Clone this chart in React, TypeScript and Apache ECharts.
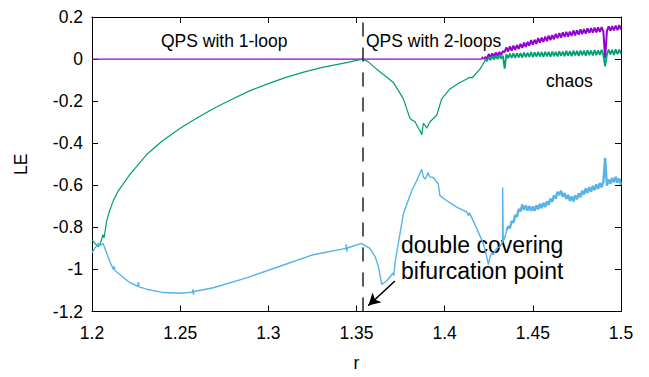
import React, { useEffect, useRef } from "react";
import * as echarts from "echarts";

// ---- data (r, LE) ----
const purpleFlat: number[][] = [
  [1.2, 0], [1.421, 0], [1.4213, 0.012], [1.4216, 0], [1.422, 0],
];
const purpleNoisy: number[][] = [
  [1.422, 0], [1.423, 0.009], [1.424, 0.003], [1.425, 0.024], [1.426, 0.01], [1.427, 0.027], [1.428, 0.013],
  [1.429, 0.031], [1.43, 0.016], [1.431, 0.034], [1.432, 0.019], [1.433, 0.038], [1.434, 0.033],
  [1.435, 0.056], [1.436, 0.036], [1.437, 0.06], [1.438, 0.04], [1.439, 0.064], [1.44, 0.044],
  [1.441, 0.067], [1.442, 0.048], [1.443, 0.072], [1.444, 0.053], [1.445, 0.078], [1.446, 0.058],
  [1.447, 0.082], [1.448, 0.063], [1.449, 0.09], [1.45, 0.068], [1.451, 0.092], [1.452, 0.072],
  [1.453, 0.1], [1.454, 0.078], [1.455, 0.102], [1.456, 0.081], [1.457, 0.107], [1.458, 0.085],
  [1.459, 0.112], [1.46, 0.09], [1.461, 0.114], [1.462, 0.094], [1.463, 0.12], [1.464, 0.099],
  [1.465, 0.123], [1.466, 0.102], [1.467, 0.127], [1.468, 0.105], [1.469, 0.13], [1.47, 0.107],
  [1.471, 0.131], [1.472, 0.11], [1.473, 0.136], [1.474, 0.113], [1.475, 0.137], [1.476, 0.116],
  [1.477, 0.141], [1.478, 0.119], [1.479, 0.143], [1.48, 0.121], [1.481, 0.146], [1.482, 0.124],
  [1.483, 0.147], [1.484, 0.126], [1.485, 0.149], [1.486, 0.127], [1.487, 0.151], [1.488, 0.129],
  [1.489, 0.152], [1.49, 0.131], [1.491, 0.004], [1.492, 0.133], [1.493, 0.156], [1.494, 0.134],
  [1.495, 0.157], [1.496, 0.136], [1.497, 0.159], [1.498, 0.137], [1.499, 0.161], [1.5, 0.14],
];

const greenSmooth: number[][] = [
  [1.2, -0.86], [1.2015, -0.875], [1.2036, -0.892], [1.205, -0.87], [1.2062, -0.835],
  [1.2068, -0.85], [1.2078, -0.8], [1.2083, -0.77], [1.21, -0.72], [1.2121, -0.673],
  [1.215, -0.625], [1.2215, -0.548], [1.231, -0.454], [1.24, -0.388], [1.25, -0.329],
  [1.26, -0.278], [1.27, -0.23], [1.28, -0.189], [1.29, -0.149], [1.3, -0.117],
  [1.31, -0.087], [1.32, -0.062], [1.33, -0.041], [1.34, -0.024], [1.345, -0.016],
  [1.35, -0.006], [1.3535, 0.0],
];
const greenDip: number[][] = [
  [1.3565, -0.012], [1.3614, -0.048], [1.366, -0.078], [1.3709, -0.111], [1.3766, -0.189],
  [1.3803, -0.282], [1.3815, -0.29], [1.3832, -0.298], [1.3851, -0.329], [1.386, -0.34],
  [1.387, -0.36], [1.3879, -0.306], [1.3889, -0.315], [1.3898, -0.329], [1.3917, -0.298],
  [1.3955, -0.267], [1.3983, -0.189], [1.403, -0.142], [1.408, -0.115], [1.4125, -0.095],
  [1.4143, -0.087], [1.4155, -0.09], [1.42, -0.048], [1.4228, -0.009], [1.423, 0.0],
];
const greenNoisy: number[][] = [
  [1.423, 0.0], [1.424, -0.01], [1.425, 0.01], [1.426, -0.005], [1.427, 0.014], [1.428, -0.002], [1.429, 0.018],
  [1.43, 0.0], [1.431, 0.02], [1.432, 0.002], [1.433, 0.016], [1.434, -0.045], [1.435, 0.024],
  [1.436, 0.004], [1.437, 0.026], [1.438, 0.005], [1.439, 0.027], [1.44, 0.006], [1.441, 0.028],
  [1.442, 0.008], [1.443, 0.029], [1.444, 0.007], [1.445, 0.031], [1.446, 0.009], [1.447, 0.03],
  [1.448, 0.01], [1.449, 0.033], [1.45, 0.009], [1.451, 0.032], [1.452, 0.011], [1.453, 0.034],
  [1.454, 0.012], [1.455, 0.033], [1.456, 0.01], [1.457, 0.035], [1.458, 0.013], [1.459, 0.034],
  [1.46, 0.011], [1.461, 0.036], [1.462, 0.014], [1.463, 0.035], [1.464, 0.012], [1.465, 0.037],
  [1.466, 0.015], [1.467, 0.036], [1.468, 0.013], [1.469, 0.039], [1.47, 0.016], [1.471, 0.038],
  [1.472, 0.014], [1.473, 0.04], [1.474, 0.017], [1.475, 0.039], [1.476, 0.015], [1.477, 0.041],
  [1.478, 0.018], [1.479, 0.04], [1.48, 0.016], [1.481, 0.042], [1.482, 0.019], [1.483, 0.041],
  [1.484, 0.017], [1.485, 0.043], [1.486, 0.018], [1.487, 0.042], [1.488, 0.02], [1.489, 0.044],
  [1.49, 0.018], [1.491, -0.035], [1.492, 0.021], [1.493, 0.045], [1.494, 0.022], [1.495, 0.044],
  [1.496, 0.02], [1.497, 0.046], [1.498, 0.023], [1.499, 0.045], [1.5, 0.024],
];

const blueLeft: number[][] = [
  [1.2, -0.922], [1.2015, -0.9], [1.2036, -0.876], [1.205, -0.885], [1.2062, -0.875],
  [1.2083, -0.922], [1.21, -0.96], [1.2121, -1.0], [1.2125, -0.985], [1.213, -1.005],
  [1.2215, -1.063], [1.226, -1.08], [1.2263, -1.06], [1.2267, -1.083], [1.231, -1.094],
  [1.2404, -1.11], [1.2499, -1.113], [1.257, -1.108], [1.2572, -1.095], [1.2575, -1.12],
  [1.2578, -1.105], [1.2688, -1.087], [1.2877, -1.04], [1.3066, -0.985], [1.3255, -0.93],
  [1.344, -0.9], [1.3442, -0.88], [1.3445, -0.915], [1.3448, -0.898], [1.3529, -0.876],
];
const blueMid: number[][] = [
  [1.3535, -0.88], [1.3576, -0.9], [1.3605, -0.938], [1.3624, -0.985], [1.3643, -1.071],
  [1.3671, -1.055], [1.3709, -1.016], [1.3712, -1.03], [1.3718, -0.97], [1.3766, -0.735],
  [1.3813, -0.626], [1.3841, -0.579], [1.387, -0.524], [1.3879, -0.56], [1.3889, -0.571],
  [1.3907, -0.54], [1.3915, -0.56], [1.3936, -0.563], [1.3964, -0.595], [1.3973, -0.649],
  [1.402, -0.678], [1.4068, -0.704], [1.4125, -0.727], [1.4135, -0.745], [1.414, -0.73],
  [1.4182, -0.806], [1.4219, -0.876], [1.4238, -0.938], [1.4248, -0.977], [1.4257, -0.94],
  [1.4267, -0.922], [1.4276, -0.93], [1.4295, -0.9], [1.4314, -0.891], [1.4328, -0.87],
  [1.4329, -0.61], [1.4332, -0.86], [1.4337, -0.86], [1.4352, -0.813],
];
const blueNoisy: number[][] = [
  [1.4352, -0.813], [1.436, -0.795], [1.437, -0.804], [1.438, -0.77], [1.439, -0.778], [1.44, -0.741], [1.441, -0.75],
  [1.442, -0.713], [1.443, -0.724], [1.444, -0.692], [1.445, -0.717], [1.446, -0.696], [1.447, -0.72],
  [1.448, -0.699], [1.449, -0.722], [1.45, -0.7], [1.451, -0.721], [1.452, -0.695], [1.453, -0.714],
  [1.454, -0.688], [1.455, -0.709], [1.456, -0.683], [1.457, -0.703], [1.458, -0.676], [1.459, -0.693],
  [1.46, -0.663], [1.461, -0.679], [1.462, -0.648], [1.463, -0.664], [1.464, -0.631], [1.465, -0.647],
  [1.466, -0.626], [1.467, -0.655], [1.468, -0.637], [1.469, -0.665], [1.47, -0.646], [1.471, -0.674],
  [1.472, -0.653], [1.473, -0.677], [1.474, -0.648], [1.475, -0.667], [1.476, -0.638], [1.477, -0.657],
  [1.478, -0.626], [1.479, -0.644], [1.48, -0.615], [1.481, -0.636], [1.482, -0.609], [1.483, -0.63],
  [1.484, -0.603], [1.485, -0.623], [1.486, -0.596], [1.487, -0.617], [1.488, -0.589], [1.489, -0.61],
  [1.49, -0.584], [1.491, -0.47], [1.492, -0.602], [1.493, -0.573], [1.494, -0.592], [1.495, -0.565],
  [1.496, -0.586], [1.497, -0.56], [1.498, -0.587], [1.499, -0.568], [1.5, -0.597],
];

const bifurcationR = 1.3535;
const arrowTail = [1.3718, -1.055];
const arrowTip = [1.3567, -1.172];

const PURPLE = "#9400D3";
const GREEN = "#009E73";
const BLUE = "#56B4E9";
const FONT = "'Liberation Sans', Arial, sans-serif";

function lineSeries(name: string, data: number[][], color: string, width: number, z: number, extra: any = {}) {
  return {
    type: "line",
    name,
    data,
    showSymbol: false,
    symbol: "none",
    lineStyle: { color, width },
    itemStyle: { color },
    z,
    ...extra,
  };
}

export default function App() {
  const ref = useRef<HTMLDivElement>(null);
  useEffect(() => {
    if (!ref.current) return;
    const chart = echarts.init(ref.current, undefined, { renderer: "svg" });
    const tickStyle = { color: "#000", width: 1 };
    const baseX = {
      type: "value" as const,
      min: 1.2,
      max: 1.5,
      interval: 0.05,
      axisLine: { show: true, onZero: false, lineStyle: { color: "#000", width: 1 } },
      axisTick: { show: true, inside: true, length: 6, lineStyle: tickStyle },
      splitLine: { show: false },
    };
    const baseY = {
      type: "value" as const,
      min: -1.2,
      max: 0.2,
      interval: 0.2,
      axisLine: { show: true, onZero: false, lineStyle: { color: "#000", width: 1 } },
      axisTick: { show: true, inside: true, length: 6, lineStyle: tickStyle },
      splitLine: { show: false },
    };
    chart.setOption({
      animation: false,
      backgroundColor: "#fff",
      grid: { left: 92, right: 28, top: 17, bottom: 61, containLabel: false },
      xAxis: [
        {
          ...baseX,
          position: "bottom",
          axisLabel: { margin: 12, fontSize: 17.5, color: "#000", fontFamily: FONT },
          name: "r",
          nameLocation: "middle",
          nameGap: 42.5,
          nameTextStyle: { fontSize: 17.5, color: "#000", fontFamily: FONT },
        },
        { ...baseX, position: "top", axisLabel: { show: false } },
      ],
      yAxis: [
        {
          ...baseY,
          position: "left",
          axisLabel: { margin: 9, fontSize: 17.5, color: "#000", fontFamily: FONT },
          name: "LE",
          nameLocation: "middle",
          nameRotate: 90,
          nameGap: 62,
          nameTextStyle: { fontSize: 17.5, color: "#000", fontFamily: FONT },
        },
        { ...baseY, position: "right", axisLabel: { show: false } },
      ],
      series: [
        lineSeries("LE1", purpleFlat, PURPLE, 1.2, 2),
        lineSeries("LE1 chaos", purpleNoisy, PURPLE, 2, 2),
        lineSeries("LE2", [...greenSmooth, ...greenDip], GREEN, 1.2, 3),
        lineSeries("LE2 chaos", greenNoisy, GREEN, 1.8, 3),
        lineSeries("LE3", [...blueLeft, ...blueMid], BLUE, 1.4, 4, {
          markLine: {
            silent: true,
            animation: false,
            precision: 5,
            symbol: ["none", "none"],
            label: { show: false },
            emphasis: { disabled: true },
            data: [
              {
                xAxis: bifurcationR,
                lineStyle: { color: "#222", width: 1.5, type: [14, 11] },
              },
              [
                {
                  coord: arrowTail,
                  symbol: "none",
                  lineStyle: { color: "#000", width: 1.5, type: "solid" },
                },
                { coord: arrowTip, symbol: "arrow", symbolSize: [10, 12] },
              ],
            ],
          },
        }),
        lineSeries("LE3 chaos", blueNoisy, BLUE, 2.4, 4),
      ],
      graphic: [
        {
          type: "text",
          left: 161,
          top: 32,
          style: { text: "QPS with 1-loop", fontSize: 17.5, fontFamily: FONT, fill: "#000" },
        },
        {
          type: "text",
          left: 366,
          top: 32,
          style: { text: "QPS with 2-loops", fontSize: 17.5, fontFamily: FONT, fill: "#000" },
        },
        {
          type: "text",
          left: 546,
          top: 72,
          style: { text: "chaos", fontSize: 17.5, fontFamily: FONT, fill: "#000" },
        },
        {
          type: "text",
          left: 401,
          top: 232,
          style: {
            text: "double covering\nbifurcation point",
            fontSize: 23,
            lineHeight: 26,
            fontFamily: FONT,
            fill: "#000",
          },
        },
      ],
    });
    return () => chart.dispose();
  }, []);
  return <div ref={ref} style={{ width: 649, height: 377, position: "absolute", left: 0, top: 0 }} />;
}
